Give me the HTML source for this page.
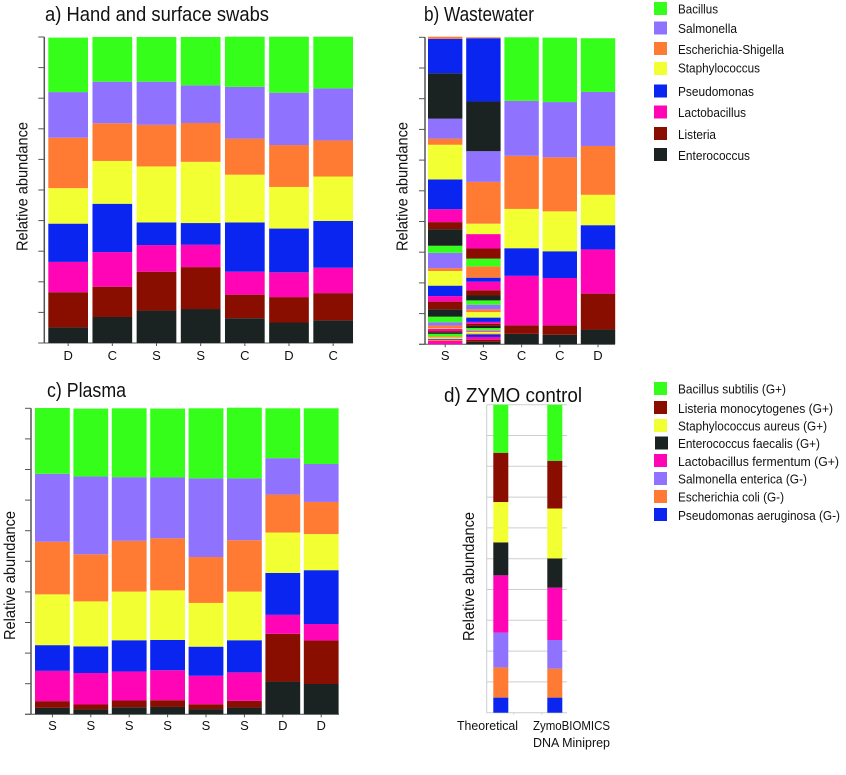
<!DOCTYPE html>
<html lang="en">
<head>
<meta charset="utf-8">
<title>Relative abundance stacked bars</title>
<style>
html,body{margin:0;padding:0;background:#fff;width:846px;height:775px;overflow:hidden}
svg{display:block;font-family:"Liberation Sans",sans-serif;fill:#111;filter:blur(0.35px)}
.title{font-size:20px}
.ylab{font-size:16px}
.xlab{font-size:13px}
.leg{font-size:13px}
</style>
</head>
<body>
<svg id="fig" width="846" height="775" viewBox="0 0 846 775" xmlns="http://www.w3.org/2000/svg">
  <rect width="846" height="775" fill="#fff"/>
  <text class="title" x="45" y="21" textLength="224" lengthAdjust="spacingAndGlyphs">a) Hand and surface swabs</text>
  <text class="title" x="424" y="21" textLength="110" lengthAdjust="spacingAndGlyphs">b) Wastewater</text>
  <text class="title" x="47" y="397" textLength="79" lengthAdjust="spacingAndGlyphs">c) Plasma</text>
  <text class="title" x="444" y="402" textLength="138" lengthAdjust="spacingAndGlyphs">d) ZYMO control</text>
  <text class="ylab" transform="translate(27.500,251) rotate(-90)" textLength="129" lengthAdjust="spacingAndGlyphs">Relative abundance</text>
  <text class="ylab" transform="translate(407.500,251) rotate(-90)" textLength="129" lengthAdjust="spacingAndGlyphs">Relative abundance</text>
  <text class="ylab" transform="translate(15,640) rotate(-90)" textLength="129" lengthAdjust="spacingAndGlyphs">Relative abundance</text>
  <text class="ylab" transform="translate(474,641) rotate(-90)" textLength="129" lengthAdjust="spacingAndGlyphs">Relative abundance</text>
  <text class="xlab" x="457" y="730" textLength="61" lengthAdjust="spacingAndGlyphs">Theoretical</text>
  <text class="xlab" x="533" y="730" textLength="77" lengthAdjust="spacingAndGlyphs">ZymoBIOMICS</text>
  <text class="xlab" x="533" y="747" textLength="77" lengthAdjust="spacingAndGlyphs">DNA Miniprep</text>

  <g>
    <g><rect x="654" y="2" width="13" height="13" fill="#35ff1a"/><text class="leg" x="678" y="13.500" textLength="40" lengthAdjust="spacingAndGlyphs">Bacillus</text></g>
    <g><rect x="654" y="21.500" width="13" height="13" fill="#8f73ff"/><text class="leg" x="678" y="33" textLength="59" lengthAdjust="spacingAndGlyphs">Salmonella</text></g>
    <g><rect x="654" y="42" width="13" height="13" fill="#ff7a33"/><text class="leg" x="678" y="54" textLength="106" lengthAdjust="spacingAndGlyphs">Escherichia-Shigella</text></g>
    <g><rect x="654" y="62" width="13" height="13" fill="#f2ff33"/><text class="leg" x="678" y="72.500" textLength="82" lengthAdjust="spacingAndGlyphs">Staphylococcus</text></g>
    <g><rect x="654" y="84.500" width="13" height="13" fill="#0a25f0"/><text class="leg" x="678" y="96" textLength="76" lengthAdjust="spacingAndGlyphs">Pseudomonas</text></g>
    <g><rect x="654" y="105.500" width="13" height="13" fill="#ff05b5"/><text class="leg" x="678" y="117" textLength="68" lengthAdjust="spacingAndGlyphs">Lactobacillus</text></g>
    <g><rect x="654" y="127" width="13" height="13" fill="#8a0e00"/><text class="leg" x="678" y="139" textLength="38" lengthAdjust="spacingAndGlyphs">Listeria</text></g>
    <g><rect x="654" y="148" width="13" height="13" fill="#1a2222"/><text class="leg" x="678" y="160" textLength="72" lengthAdjust="spacingAndGlyphs">Enterococcus</text></g>
  </g>
  <g>
    <g><rect x="654" y="382" width="13" height="13" fill="#35ff1a"/><text class="leg" x="678" y="393.500" textLength="108" lengthAdjust="spacingAndGlyphs">Bacillus subtilis (G+)</text></g>
    <g><rect x="654" y="401" width="13" height="13" fill="#8a0e00"/><text class="leg" x="678" y="413" textLength="155" lengthAdjust="spacingAndGlyphs">Listeria monocytogenes (G+)</text></g>
    <g><rect x="654" y="419" width="13" height="13" fill="#f2ff33"/><text class="leg" x="678" y="430.500" textLength="149" lengthAdjust="spacingAndGlyphs">Staphylococcus aureus (G+)</text></g>
    <g><rect x="655" y="436.500" width="13" height="13" fill="#1a2222"/><text class="leg" x="678" y="448" textLength="142" lengthAdjust="spacingAndGlyphs">Enterococcus faecalis (G+)</text></g>
    <g><rect x="654" y="454" width="13" height="13" fill="#ff05b5"/><text class="leg" x="678" y="466" textLength="161" lengthAdjust="spacingAndGlyphs">Lactobacillus fermentum (G+)</text></g>
    <g><rect x="654" y="472" width="13" height="13" fill="#8f73ff"/><text class="leg" x="678" y="483.500" textLength="129" lengthAdjust="spacingAndGlyphs">Salmonella enterica (G-)</text></g>
    <g><rect x="654" y="490" width="13" height="13" fill="#ff7a33"/><text class="leg" x="678" y="501.500" textLength="106" lengthAdjust="spacingAndGlyphs">Escherichia coli (G-)</text></g>
    <g><rect x="654" y="508" width="13" height="13" fill="#0a25f0"/><text class="leg" x="678" y="520" textLength="162" lengthAdjust="spacingAndGlyphs">Pseudomonas aeruginosa (G-)</text></g>
  </g>
</svg>
<script>
// Colours by taxon code
const taxonColors = {bac:'#35ff1a',sal:'#8f73ff',esc:'#ff7a33',sta:'#f2ff33',pse:'#0a25f0',lac:'#ff05b5',lis:'#8a0e00',ent:'#1a2222'};
const tickValues = [0,10,20,30,40,50,60,70,80,90,100];

// a) Hand and surface swabs
const handCategories = ['D','C','S','S','C','D','C'];
const handEnt = [5.1,8.5,10.6,11.1,8.1,6.7,7.4];
const handLis = [11.5,9.9,12.7,13.7,7.7,8.3,8.9];
const handLac = [9.9,11.3,8.7,7.3,7.5,8.1,8.3];
const handPse = [12.5,15.8,7.4,7.1,16.1,14.3,15.3];
const handSta = [11.6,14.0,18.3,20.0,15.6,13.6,14.5];
const handEsc = [16.5,12.3,13.6,12.7,11.8,13.7,11.8];
const handSal = [14.9,13.6,14.1,12.3,16.9,17.1,17.0];
const handBac = [17.8,14.6,14.6,15.8,16.4,18.3,16.9];

// b) Wastewater
const wasteCategories = ['S','S','C','C','D'];
const wasteBar1Taxa = ['lac','esc','pse','sta','esc','bac','ent','lis','lac','sta','esc','sal','bac','ent','lis','lac','pse','sta','esc','sal','bac','ent','lis','lac','pse','sta','esc','sal','ent','pse','esc'];
const wasteBar1Values = [1.1,0.4,0.3,0.4,0.4,0.8,0.5,0.4,0.8,0.2,0.8,1.1,1.8,2.4,2.5,1.8,3.4,4.8,0.9,5.0,2.3,5.4,2.3,4.2,9.7,11.3,2.0,6.5,14.8,11.2,0.7];
const wasteBar2Taxa = ['ent','lis','lac','pse','esc','sta','sal','esc','bac','ent','lis','lac','pse','sta','esc','sal','bac','ent','lis','lac','pse','esc','bac','lis','lac','sta','esc','sal','ent','pse','esc'];
const wasteBar2Values = [0.8,0.7,0.9,0.8,0.3,0.5,0.4,0.3,0.6,0.7,0.7,0.6,1.4,1.8,0.9,1.5,1.4,1.6,1.7,2.8,1.3,3.7,2.5,3.3,4.7,3.4,13.6,10.0,16.2,20.6,0.3];
const wasteBar3Taxa = ['ent','lis','lac','pse','sta','esc','sal','bac'];
const wasteBar3Values = [3.4,2.8,16.1,9.0,12.8,17.3,17.9,20.7];
const wasteBar4Taxa = ['ent','lis','lac','pse','sta','esc','sal','bac'];
const wasteBar4Values = [3.1,3.0,15.5,8.7,13.0,17.6,18.0,21.0];
const wasteBar5Taxa = ['ent','lis','lac','pse','sta','esc','sal','bac'];
const wasteBar5Values = [4.8,11.7,14.4,7.9,9.9,15.9,17.6,17.5];

// c) Plasma
const plasmaCategories = ['S','S','S','S','S','S','D','D'];
const plasmaEnt = [2.1,1.6,2.3,2.4,1.7,2.2,10.7,9.9];
const plasmaLis = [2.2,1.6,2.2,2.2,1.6,2.2,15.6,14.2];
const plasmaLac = [9.9,10.3,9.5,9.8,9.3,9.3,6.2,5.4];
const plasmaPse = [8.4,8.7,10.2,9.9,9.5,10.5,13.7,17.6];
const plasmaSta = [16.6,14.7,15.9,16.2,14.3,15.9,13.2,11.8];
const plasmaEsc = [17.2,15.4,16.6,17.0,15.0,16.8,12.4,10.5];
const plasmaSal = [22.2,25.4,20.8,19.9,25.7,20.2,11.9,12.4];
const plasmaBac = [21.5,22.2,22.5,22.5,22.9,23.1,16.3,18.2];

// d) ZYMO control (bottom to top)
const zymoCategories = ['Theoretical','ZymoBIOMICS DNA Miniprep'];
const zymoPse = [4.9,4.9];
const zymoEsc = [9.8,9.4];
const zymoSal = [11.3,9.3];
const zymoLac = [18.6,17.0];
const zymoEnt = [10.7,9.5];
const zymoSta = [13.1,16.2];
const zymoLis = [16.0,15.5];
const zymoBac = [15.6,18.2];

const NS = 'http://www.w3.org/2000/svg';
const fig = document.getElementById('fig');

function linearY(top, bottom) {
  return function (v) { return bottom - (bottom - top) * v / 100; };
}
function bandX(start, step) {
  return function (i) { return start + step * i; };
}
function makeLine(parent, x1, y1, x2, y2, color, w) {
  const l = document.createElementNS(NS, 'line');
  l.setAttribute('x1', x1);
  l.setAttribute('y1', y1);
  l.setAttribute('x2', x2);
  l.setAttribute('y2', y2);
  l.setAttribute('stroke', color);
  l.setAttribute('stroke-width', w);
  parent.appendChild(l);
  return l;
}
function makeGroup(name) {
  const g = document.createElementNS(NS, 'g');
  
  
  fig.appendChild(g);
  return g;
}
function drawAxes(prefix, axisX, y, xRight, color, tickLen) {
  const g = makeGroup(prefix + '-axes');
  const axis = makeLine(g, axisX, y(100), axisX, y(0), color, 1.5);
  
  
  const base = makeLine(g, axisX - tickLen, y(0), xRight, y(0), color, 1);
  
  
  tickValues.forEach(function (t) {
    const tick = makeLine(g, axisX - tickLen, y(t), axisX, y(t), color, 1);
    
    
  });
}
function drawBar(prefix, index, x, w, y, taxa, values) {
  const g = makeGroup(prefix + '-bar-' + (index + 1));
  let cum = 0;
  values.forEach(function (v, k) {
    const r = document.createElementNS(NS, 'rect');
    
    
    r.setAttribute('x', x);
    r.setAttribute('y', y(cum + v));
    r.setAttribute('width', w);
    r.setAttribute('height', y(cum) - y(cum + v));
    r.setAttribute('fill', taxonColors[taxa[k]]);
    g.appendChild(r);
    cum += v;
  });
}
function drawXLabels(prefix, cats, x, w, y0, labelY) {
  const g = makeGroup(prefix + '-x-labels');
  cats.forEach(function (c, i) {
    const cx = x(i) + w / 2;
    const tick = makeLine(g, cx, y0, cx, y0 + 3, '#555', 1);
    
    
    const t = document.createElementNS(NS, 'text');
    
    
    t.setAttribute('x', cx);
    t.setAttribute('y', labelY);
    t.setAttribute('text-anchor', 'middle');
    t.setAttribute('class', 'xlab');
    t.textContent = c;
    g.appendChild(t);
  });
}
function drawStack(prefix, cats, x, w, y, order, series) {
  cats.forEach(function (c, i) {
    drawBar(prefix, i, x(i), w, y, order, series.map(function (s) { return s[i]; }));
  });
}

const order = ['ent','lis','lac','pse','sta','esc','sal','bac'];

// Panel a
const yA = linearY(37, 343);
const xA = bandX(48.3, 44.17);
drawAxes('panel-a', 44.3, yA, 353, '#555', 6);
drawStack('panel-a', handCategories, xA, 39.7, yA, order, [handEnt,handLis,handLac,handPse,handSta,handEsc,handSal,handBac]);
drawXLabels('panel-a', handCategories, xA, 39.7, 343, 360);

// Panel b
const yB = linearY(37.3, 344.3);
const xB = bandX(428, 38.2);
drawAxes('panel-b', 425, yB, 615, '#555', 6);
drawBar('panel-b', 0, xB(0), 34.4, yB, wasteBar1Taxa, wasteBar1Values);
drawBar('panel-b', 1, xB(1), 34.4, yB, wasteBar2Taxa, wasteBar2Values);
drawBar('panel-b', 2, xB(2), 34.4, yB, wasteBar3Taxa, wasteBar3Values);
drawBar('panel-b', 3, xB(3), 34.4, yB, wasteBar4Taxa, wasteBar4Values);
drawBar('panel-b', 4, xB(4), 34.4, yB, wasteBar5Taxa, wasteBar5Values);
drawXLabels('panel-b', wasteCategories, xB, 34.4, 344.3, 360);

// Panel c
const yC = linearY(408.3, 714.3);
const xC = bandX(35, 38.4);
drawAxes('panel-c', 31, yC, 339, '#555', 6);
drawStack('panel-c', plasmaCategories, xC, 34.8, yC, order, [plasmaEnt,plasmaLis,plasmaLac,plasmaPse,plasmaSta,plasmaEsc,plasmaSal,plasmaBac]);
drawXLabels('panel-c', plasmaCategories, xC, 34.8, 714.3, 730);

// Panel d
const yD = linearY(404.7, 712.7);
const xD = bandX(493.3, 54);
const gridD = makeGroup('panel-d-gridlines');
tickValues.forEach(function (t) {
  const grid = makeLine(gridD, 486.7, yD(t), 567, yD(t), '#c9cfcf', 1);
  
  
});
const axisD = makeLine(gridD, 486.7, yD(100), 486.7, yD(0), '#c9cfcf', 1);


zymoCategories.forEach(function (c, i) {
  const cx = xD(i) + 7.5 + (i === 0 ? 13 : -13);
  const tickD = makeLine(gridD, cx, yD(0), cx, yD(0) + 2, '#c9cfcf', 1);
  
  
});
const orderD = ['pse','esc','sal','lac','ent','sta','lis','bac'];
drawStack('panel-d', zymoCategories, xD, 15, yD, orderD, [zymoPse,zymoEsc,zymoSal,zymoLac,zymoEnt,zymoSta,zymoLis,zymoBac]);
</script>
</body>
</html>
